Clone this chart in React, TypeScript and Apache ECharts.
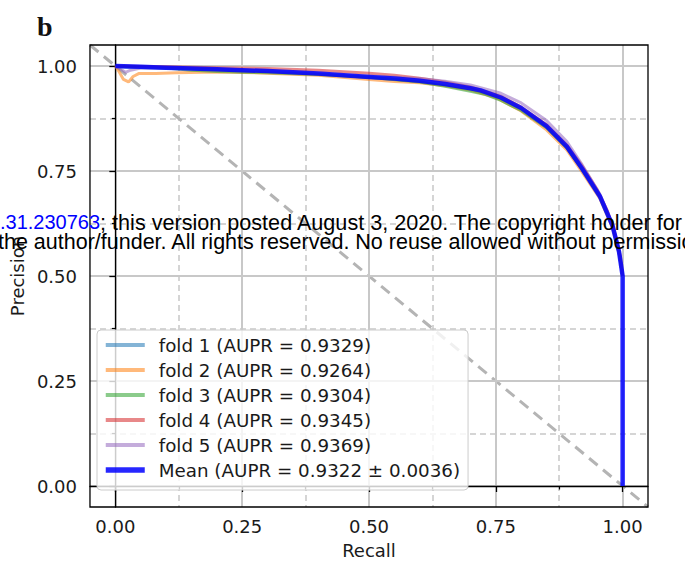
import React, { useEffect, useRef } from 'react';
import * as echarts from 'echarts';

// ---- data ----
const fold1Recall = [0, 0.02, 0.05, 0.1, 0.2, 0.3, 0.4, 0.5, 0.6, 0.65, 0.7, 0.76, 0.8, 0.85, 0.89, 0.92, 0.955, 0.98, 0.993, 1.0];
const fold1Precision = [1.0, 0.997, 0.996, 0.995, 0.991, 0.987, 0.981, 0.973, 0.963, 0.955, 0.946, 0.923, 0.899, 0.856, 0.806, 0.753, 0.688, 0.618, 0.556, 0.5];

const fold2Recall = [0, 0.008, 0.016, 0.026, 0.035, 0.046, 0.08, 0.12, 0.2, 0.3, 0.4, 0.5, 0.55, 0.6, 0.65, 0.7, 0.75, 0.8, 0.85, 0.89, 0.92, 0.955, 0.98, 0.993, 1.0];
const fold2Precision = [1.0, 0.985, 0.968, 0.962, 0.975, 0.982, 0.982, 0.984, 0.986, 0.983, 0.978, 0.968, 0.963, 0.96, 0.953, 0.943, 0.925, 0.893, 0.848, 0.8, 0.748, 0.685, 0.615, 0.553, 0.5];

const fold3Recall = [0, 0.05, 0.1, 0.15, 0.2, 0.25, 0.3, 0.4, 0.5, 0.6, 0.65, 0.7, 0.73, 0.76, 0.8, 0.85, 0.89, 0.92, 0.955, 0.98, 0.993, 1.0];
const fold3Precision = [1.0, 0.998, 0.995, 0.99, 0.987, 0.985, 0.984, 0.98, 0.973, 0.962, 0.952, 0.94, 0.932, 0.918, 0.894, 0.853, 0.805, 0.755, 0.69, 0.62, 0.557, 0.5];

const fold4Recall = [0, 0.05, 0.1, 0.2, 0.3, 0.4, 0.5, 0.55, 0.6, 0.65, 0.7, 0.76, 0.8, 0.85, 0.89, 0.92, 0.95, 0.97, 0.985, 0.995, 1.0];
const fold4Precision = [1.0, 0.999, 0.998, 0.996, 0.994, 0.99, 0.983, 0.978, 0.971, 0.962, 0.95, 0.928, 0.902, 0.86, 0.812, 0.763, 0.705, 0.655, 0.6, 0.55, 0.5];

const fold5Recall = [0, 0.01, 0.02, 0.03, 0.05, 0.1, 0.2, 0.3, 0.4, 0.5, 0.6, 0.65, 0.7, 0.76, 0.8, 0.85, 0.89, 0.92, 0.955, 0.98, 0.993, 1.0];
const fold5Precision = [1.0, 0.993, 0.985, 0.99, 0.995, 0.996, 0.992, 0.988, 0.982, 0.976, 0.97, 0.964, 0.955, 0.935, 0.912, 0.87, 0.82, 0.765, 0.695, 0.624, 0.56, 0.5];

const meanRecall = [0, 0.05, 0.1, 0.15, 0.2, 0.25, 0.3, 0.35, 0.4, 0.45, 0.5, 0.55, 0.6, 0.65, 0.7, 0.72, 0.76, 0.8, 0.85, 0.89, 0.92, 0.955, 0.98, 0.993, 1.0, 1.0];
const meanPrecision = [1.0, 0.998, 0.996, 0.994, 0.992, 0.99, 0.988, 0.985, 0.982, 0.978, 0.974, 0.97, 0.965, 0.957, 0.947, 0.942, 0.925, 0.9, 0.857, 0.808, 0.756, 0.69, 0.62, 0.557, 0.5, 0.0];

const chanceRecall = [-0.05, 1.05];
const chancePrecision = [1.05, -0.05];

const foldNames = [
  'fold 1 (AUPR = 0.9329)',
  'fold 2 (AUPR = 0.9264)',
  'fold 3 (AUPR = 0.9304)',
  'fold 4 (AUPR = 0.9345)',
  'fold 5 (AUPR = 0.9369)',
];
const meanName = 'Mean (AUPR = 0.9322 \u00b1 0.0036)';

const majorTicks = [0, 0.25, 0.5, 0.75, 1.0];
const minorTicks = [0.125, 0.375, 0.625, 0.875];

const foldColors = ['#1f77b4', '#ff7f0e', '#2ca02c', '#d62728', '#9467bd'];

const zip = (r: number[], p: number[]) => r.map((x, i) => [x, p[i]]);

const FONT = 'DejaVu Sans';
const TXT = '#1a1a1a';
const fmt = (v: number) => (v < -0.001 || v > 1.001 ? '' : v.toFixed(2));

function majorAxis(name: string, isX: boolean) {
  return {
    type: 'value',
    min: -0.05,
    max: 1.05,
    minInterval: 0.25,
    maxInterval: 0.25,
    z: 2,
    name,
    nameLocation: 'middle',
    nameGap: isX ? 34 : 58,
    nameTextStyle: { fontFamily: FONT, fontSize: 18, color: TXT },
    axisLine: { show: true, lineStyle: { color: '#000', width: 1.3 } },
    axisTick: { show: true, length: 6, customValues: majorTicks, lineStyle: { color: '#000', width: 1.3 } },
    axisLabel: {
      customValues: majorTicks,
      formatter: fmt,
      margin: isX ? 10 : 13,
      fontFamily: FONT,
      fontSize: 18,
      color: TXT,
    },
    splitLine: { show: true, lineStyle: { color: '#c8c8c8', width: 2 } },
  };
}

function minorAxis(isX: boolean) {
  return {
    type: 'value',
    min: -0.05,
    max: 1.05,
    minInterval: 0.125,
    maxInterval: 0.125,
    z: 1,
    position: isX ? 'bottom' : 'left',
    axisLine: { show: false },
    axisTick: { show: true, length: 3.5, customValues: minorTicks, lineStyle: { color: '#000', width: 1.2 } },
    axisLabel: { show: false, customValues: minorTicks },
    splitLine: { show: true, lineStyle: { color: '#c8c8c8', width: 1.5, type: [6, 4] } },
  };
}

export default function App() {
  const ref = useRef<HTMLDivElement>(null);
  useEffect(() => {
    if (!ref.current) return;
    const chart = echarts.init(ref.current, undefined, { renderer: 'svg' });
    const folds = [
      zip(fold1Recall, fold1Precision),
      zip(fold2Recall, fold2Precision),
      zip(fold3Recall, fold3Precision),
      zip(fold4Recall, fold4Precision),
      zip(fold5Recall, fold5Precision),
    ];
    const series: any[] = [
      {
        name: 'chance',
        type: 'line',
        data: zip(chanceRecall, chancePrecision),
        symbol: 'none',
        silent: true,
        z: 1,
        lineStyle: { color: '#b4b4b4', width: 3, type: [11, 7] },
      },
    ];
    folds.forEach((d, i) => {
      series.push({
        name: foldNames[i],
        type: 'line',
        data: d,
        symbol: 'none',
        itemStyle: { color: foldColors[i], opacity: 0.55 },
        lineStyle: { color: foldColors[i], width: 3, opacity: 0.55 },
        z: 2,
      });
    });
    series.push({
      name: meanName,
      type: 'line',
      data: zip(meanRecall, meanPrecision),
      symbol: 'none',
      itemStyle: { color: '#0000ff', opacity: 0.85 },
      lineStyle: { color: '#0000ff', width: 4.5, opacity: 0.85 },
      z: 3,
    });

    chart.setOption({
      animation: false,
      grid: {
        left: 88,
        right: 37,
        top: 45,
        bottom: 55,
        show: true,
        z: 10,
        borderColor: '#000',
        borderWidth: 1.3,
        backgroundColor: 'transparent',
      },
      xAxis: [majorAxis('Recall', true), minorAxis(true)],
      yAxis: [majorAxis('Precision', false), minorAxis(false)],
      legend: {
        data: [...foldNames.map((n) => ({ name: n })), { name: meanName, lineStyle: { width: 5.5 } }],
        orient: 'vertical',
        left: 97,
        top: 330,
        itemWidth: 39,
        itemHeight: 20,
        itemGap: 7,
        padding: [6, 8, 11, 6],
        backgroundColor: 'rgba(255,255,255,0.8)',
        borderColor: '#cccccc',
        borderWidth: 1,
        borderRadius: 4,
        selectedMode: false,
        itemStyle: { opacity: 0, color: 'transparent', borderColor: 'transparent', borderWidth: 0 },
        lineStyle: { width: 4 },
        textStyle: { fontFamily: FONT, fontSize: 18.3, color: TXT, padding: [0, 0, 0, 9] },
        z: 6,
      },
      graphic: [
        {
          type: 'text',
          left: 37,
          top: 12,
          style: { text: 'b', font: 'bold 28px "Liberation Serif", serif', fill: '#111' },
        },
        {
          type: 'text',
          x: 0,
          y: 222,
          z: 100,
          style: {
            text: '{a|.31.230763}{b|; this version posted August 3, 2020. The copyright holder for}',
            verticalAlign: 'middle',
            rich: {
              a: { fill: '#0000ff', fontFamily: 'Liberation Sans', fontSize: 20 },
              b: { fill: '#000', fontFamily: 'Liberation Sans', fontSize: 21.6 },
            },
          },
        },
        {
          type: 'text',
          x: -2,
          y: 242,
          z: 100,
          style: {
            text: 'the author/funder. All rights reserved. No reuse allowed without permissio',
            verticalAlign: 'middle',
            fill: '#000',
            font: '21.5px "Liberation Sans"',
          },
        },
      ],
      series,
    });
    return () => chart.dispose();
  }, []);
  return <div ref={ref} style={{ width: 685, height: 564, position: 'absolute', left: 0, top: 0 }} />;
}
